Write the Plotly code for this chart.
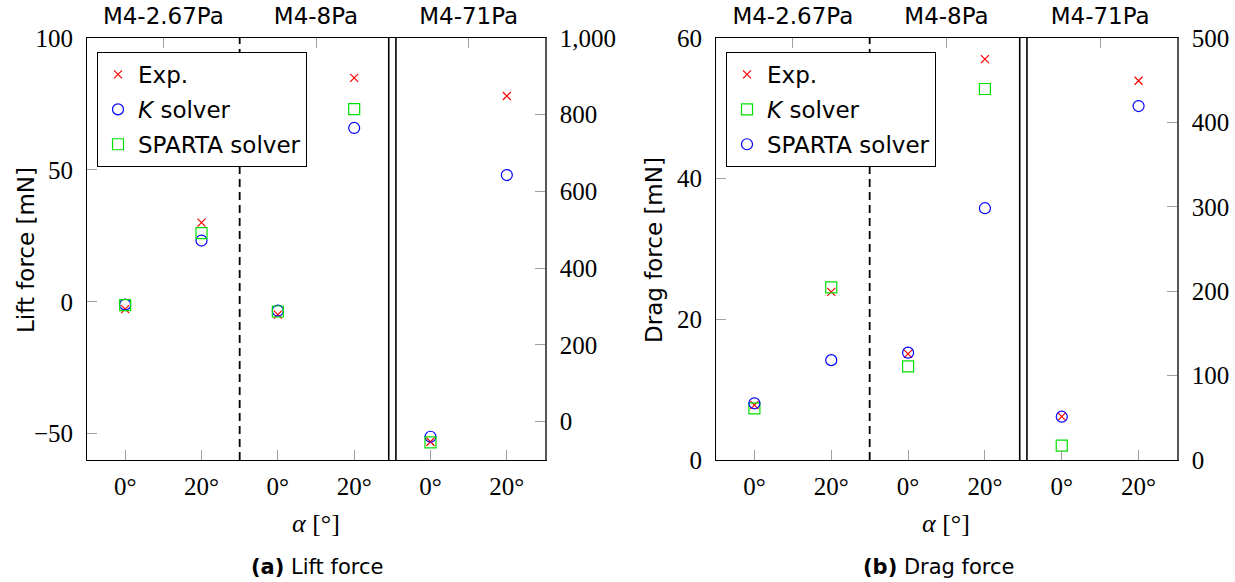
import plotly.graph_objects as go

W, H = 1235, 582

# ---- data -------------------------------------------------------------
pressures = ["M4-2.67Pa", "M4-8Pa", "M4-71Pa"]
angles = ["0°", "20°"]
secondary_group = "M4-71Pa"  # plotted against the right-hand axis

# one case per (pressure, angle)
case_pressure = [p for p in pressures for _ in angles]
case_angle = [a for _ in pressures for a in angles]

# Lift force (mN; M4-71Pa on right axis)
lift_exp = [-2.8, 30.0, -4.9, 84.9, -52.4, 848.7]
lift_k = [-1.1, 23.2, -3.4, 65.9, -39.4, 642.8]
lift_sparta = [-1.25, 26.0, -3.7, 73.0, -54.0, None]

# Drag force (mN; M4-71Pa on right axis)
drag_exp = [7.8, 23.9, 15.1, 57.0, 51.3, 449.4]
drag_k = [7.35, 24.55, 13.3, 52.75, 17.0, None]
drag_sparta = [8.06, 14.2, 15.26, 35.8, 51.3, 419.4]

lift_left_ticks = [-50, 0, 50, 100]
lift_right_ticks = [0, 200, 400, 600, 800, 1000]
drag_left_ticks = [0, 20, 40, 60]
drag_right_ticks = [0, 100, 200, 300, 400, 500]

# ---- helpers ----------------------------------------------------------
case_pos = list(range(len(case_angle)))
group_pos = [sum(i for i, p in enumerate(case_pressure) if p == g) / len(angles)
             for g in pressures]
is_secondary = [p == secondary_group for p in case_pressure]

SANS = "DejaVu Sans"
SERIF = "Liberation Serif, DejaVu Serif, serif"
RED, BLUE, GREEN = "#ff0000", "#0000ff", "#00e000"

STYLE = {
    "exp": dict(symbol="x-thin-open", size=8, line=dict(color=RED, width=1.2), color=RED),
    "circle": dict(symbol="circle-open", size=11, line=dict(color=BLUE, width=1.2), color=BLUE),
    "square": dict(symbol="square-open", size=11, line=dict(color=GREEN, width=1.2), color=GREEN),
}


def fmt(v):
    s = f"{v:,}"
    return s.replace("-", "\u2212")


fig = go.Figure()


def add_series(name, values, style, xa, ya_left, ya_right, legend, group):
    for sec, ya in ((False, ya_left), (True, ya_right)):
        xs = [c for c, s, v in zip(case_pos, is_secondary, values) if s == sec and v is not None]
        ys = [v for s, v in zip(is_secondary, values) if s == sec and v is not None]
        if not xs:
            continue
        fig.add_trace(go.Scatter(
            x=xs, y=ys, mode="markers", name=name, marker=STYLE[style],
            xaxis=xa, yaxis=ya, legend=legend, legendgroup=group,
            showlegend=not sec, cliponaxis=False,
        ))


# (a) lift
add_series("Exp.", lift_exp, "exp", "x", "y", "y2", "legend", "a1")
add_series("<i>K</i> solver", lift_k, "circle", "x", "y", "y2", "legend", "a2")
add_series("SPARTA solver", lift_sparta, "square", "x", "y", "y2", "legend", "a3")
# (b) drag
add_series("Exp.", drag_exp, "exp", "x3", "y3", "y4", "legend2", "b1")
add_series("<i>K</i> solver", drag_k, "square", "x3", "y3", "y4", "legend2", "b2")
add_series("SPARTA solver", drag_sparta, "circle", "x3", "y3", "y4", "legend2", "b3")

# anchors for the top (group label) axes
for xa, ya in (("x2", "y"), ("x4", "y3")):
    fig.add_trace(go.Scatter(x=[None], y=[None], xaxis=xa, yaxis=ya,
                             showlegend=False, hoverinfo="skip"))

# ---- axes -------------------------------------------------------------
y_dom = [1 - 460 / H, 1 - 38 / H]
dom_a = [87 / W, 545 / W]
dom_b = [716 / W, 1177 / W]
xr = [-0.5, len(case_pos) - 0.5]

tick_common = dict(ticks="inside", ticklen=10, tickcolor="#a0a0a0", tickwidth=1,
                   showgrid=False, zeroline=False, showline=True, automargin=False,
                   linecolor="#000000", linewidth=1)
serif_ticks = dict(family=SERIF, size=25, color="#000000")


def bottom_axis(dom, anchor):
    return dict(domain=dom, range=xr, anchor=anchor, tickmode="array",
                tickvals=case_pos, ticktext=case_angle, tickfont=serif_ticks,
                ticklabelstandoff=4, **tick_common)


def top_axis(over, anchor):
    return dict(overlaying=over, side="top", range=xr, anchor=anchor, tickmode="array",
                tickvals=group_pos, ticktext=pressures,
                tickfont=dict(family=SANS, size=23, color="#000000"),
                ticklabelstandoff=4, **tick_common)


def left_axis(rng, ticks, anchor):
    return dict(domain=y_dom, range=rng, anchor=anchor, tickmode="array",
                tickvals=ticks, ticktext=[fmt(t) for t in ticks], tickfont=serif_ticks,
                ticklabelstandoff=8, **tick_common)


def right_axis(over, rng, ticks, anchor):
    d = dict(overlaying=over, side="right", range=rng, anchor=anchor, tickmode="array",
             tickvals=ticks, ticktext=[fmt(t) for t in ticks], tickfont=serif_ticks,
             ticklabelstandoff=8, **tick_common)
    d["linecolor"] = "#555555"
    d["linewidth"] = 1.5
    return d


fig.update_layout(
    width=W, height=H,
    autosize=False,
    margin=dict(l=0, r=0, t=0, b=0, pad=0, autoexpand=False),
    paper_bgcolor="white", plot_bgcolor="white",
    xaxis=bottom_axis(dom_a, "y"),
    xaxis2=top_axis("x", "y"),
    yaxis=left_axis([-60, 100], lift_left_ticks, "x"),
    yaxis2=right_axis("y", [-100, 1000], lift_right_ticks, "x"),
    xaxis3=bottom_axis(dom_b, "y3"),
    xaxis4=top_axis("x3", "y3"),
    yaxis3=left_axis([0, 60], drag_left_ticks, "x3"),
    yaxis4=right_axis("y3", [0, 500], drag_right_ticks, "x3"),
    showlegend=True,
)

legend_common = dict(bgcolor="white", bordercolor="#000000", borderwidth=1,
                     font=dict(family=SANS, size=23, color="#000000"),
                     traceorder="grouped", tracegroupgap=2,
                     xanchor="left", yanchor="top", itemclick=False)
fig.update_layout(
    legend=dict(x=97 / W, y=1 - 52 / H, **legend_common),
    legend2=dict(x=726 / W, y=1 - 52 / H, **legend_common),
)

# ---- separators between pressure groups --------------------------------
def separators(xref, yref):
    b0 = group_pos[0] + 1.0  # boundary between first and second group
    b1 = group_pos[1] + 1.0  # boundary between second and third group
    fig.add_shape(type="line", xref=xref, yref=yref, x0=b0, x1=b0, y0=0, y1=1,
                  line=dict(color="#000000", width=1.8, dash="8px,5px"), layer="below")
    for off in (-0.047, 0.047):
        fig.add_shape(type="line", xref=xref, yref=yref, x0=b1 + off, x1=b1 + off,
                      y0=0, y1=1, line=dict(color="#000000", width=1.6), layer="below")


separators("x", "y domain")
separators("x3", "y3 domain")

# ---- titles and captions ----------------------------------------------
def note(text, x, y, font, angle=0):
    fig.add_annotation(text=text, xref="paper", yref="paper", x=x / W, y=1 - y / H,
                       xanchor="center", yanchor="middle", showarrow=False,
                       textangle=angle, font=font)


sans23 = dict(family=SANS, size=23, color="#000000")
note("Lift force [mN]", 26, 250, sans23, -90)
note("Drag force [mN]", 654, 250, sans23, -90)
note("<i>α</i> [°]", 316, 523, dict(family=SERIF, size=26, color="#000000"))
note("<i>α</i> [°]", 946, 523, dict(family=SERIF, size=26, color="#000000"))
note("<b>(a)</b> Lift force", 317, 567, dict(family=SANS, size=21, color="#000000"))
note("<b>(b)</b> Drag force", 938, 567, dict(family=SANS, size=21, color="#000000"))

fig.write_html("out.html")
